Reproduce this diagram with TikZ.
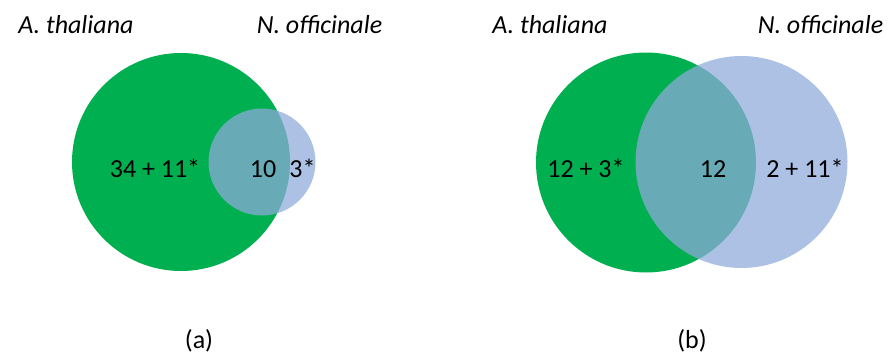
\documentclass[tikz,border=0pt]{standalone}
\usepackage{fontspec}
\setmainfont{Carlito}
\definecolor{setgreen}{HTML}{00B050}
\definecolor{setblue}{HTML}{8FAADC}
\begin{document}
\begin{tikzpicture}[x=1pt,y=-1pt,
  every node/.style={inner sep=0pt,font=\fontsize{26}{30}\selectfont},
  species/.style={font=\fontsize{26}{30}\selectfont\itshape,anchor=base},
  count/.style={anchor=base},
  caption/.style={anchor=base},
  greenset/.style={fill=setgreen},
  blueset/.style={fill=setblue,fill opacity=0.73}]
\useasboundingbox (0,0) rectangle (889,356);

% panel (a)
\fill[greenset] (181,162) circle (109);
\fill[blueset] (262,162) circle (53.5);
\node[species] (a1) at (76,34) {A. thaliana};
\node[species] (a2) at (319.5,34) {N. officinale};
\node[count] (a3) at (155,177) {34 + 11*};
\node[count] (a4) at (263,177) {10};
\node[count] (a5) at (302.5,177) {3*};
\node[caption] (a6) at (199,348) {(a)};

% panel (b)
\fill[greenset] (646,162.5) circle (110);
\fill[blueset] (741.5,162) circle (106);
\node[species] (b1) at (550,34) {A. thaliana};
\node[species] (b2) at (820.5,34) {N. officinale};
\node[count] (b3) at (586,177) {12 + 3*};
\node[count] (b4) at (713,177) {12};
\node[count] (b5) at (805,177) {2 + 11*};
\node[caption] (b6) at (692,348) {(b)};
\end{tikzpicture}
\end{document}
